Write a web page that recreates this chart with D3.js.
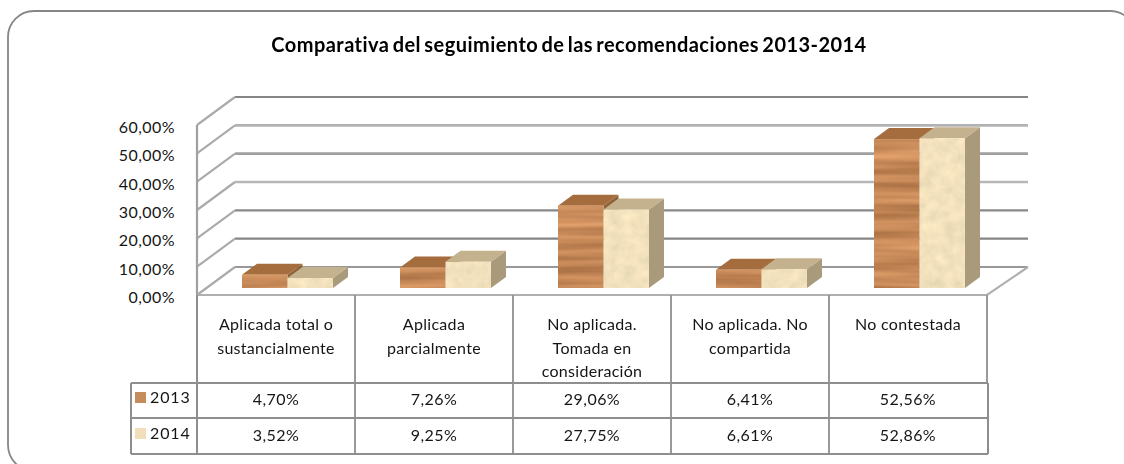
<!DOCTYPE html>
<html><head><meta charset="utf-8">
<script src="https://cdn.jsdelivr.net/npm/d3@7"></script>
<style>
html,body{margin:0;padding:0;background:#fff;overflow:hidden}
text{font-family:Lato,"Open Sans",sans-serif;fill:#151515}
</style></head><body>
<svg id="c" width="1124" height="464"></svg>
<script>
const title = "Comparativa del seguimiento de las recomendaciones 2013-2014";
const categories = [
  ["Aplicada total o","sustancialmente"],
  ["Aplicada","parcialmente"],
  ["No aplicada.","Tomada en","consideración"],
  ["No aplicada. No","compartida"],
  ["No contestada"]
];
const seriesNames = ["2013","2014"];
const values2013 = [4.70,7.26,29.06,6.41,52.56];
const values2014 = [3.52,9.25,27.75,6.61,52.86];
const yTicks = [0,10,20,30,40,50,60];

const svg = d3.select("#c");
const loc = d3.formatLocale({decimal:",",thousands:".",grouping:[3],currency:["","€"]});
const pct = v => loc.format(".2f")(v)+"%";

const defs = svg.append("defs");
function tex(id,freq,seed,oct,r,g,b,amp){
  const f = defs.append("filter").attr("id",id).attr("filterUnits","userSpaceOnUse")
    .attr("x",0).attr("y",0).attr("width",1124).attr("height",464).attr("color-interpolation-filters","sRGB");
  f.append("feTurbulence").attr("type","fractalNoise").attr("baseFrequency",freq).attr("numOctaves",oct).attr("seed",seed).attr("result","n");
  f.append("feColorMatrix").attr("in","n").attr("type","matrix")
    .attr("values",`${amp} 0 0 0 ${r-amp/2}  ${amp*0.85} 0 0 0 ${g-amp*0.85/2}  ${amp*0.7} 0 0 0 ${b-amp*0.7/2}  0 0 0 0 1`).attr("result","c");
  f.append("feComposite").attr("in","c").attr("in2","SourceAlpha").attr("operator","in").attr("result","t");
  f.append("feGaussianBlur").attr("in","t").attr("stdDeviation",0.6);
}
tex("wood","0.006 0.13",7,2,0.77,0.53,0.34,0.34);
tex("sand","0.09 0.09",4,3,0.95,0.885,0.74,0.13);
defs.append("filter").attr("id","soft").append("feGaussianBlur").attr("stdDeviation",0.55);

// frame
svg.append("rect").attr("x",8).attr("y",11).attr("width",1128).attr("height",460).attr("rx",26)
  .attr("fill","#fff").attr("stroke","#868686").attr("stroke-width",1.8);

// scales
const x = d3.scaleBand().domain(d3.range(categories.length)).range([197,987]);
const y = d3.scaleLinear().domain([0,60]).range([295,125]);
const depthX = 38, depthY = 28, backRight = 1028;

// walls
const walls = svg.append("g").attr("filter","url(#soft)");
const gridColor = t => ({60:"#858585",50:"#b2b2b2",40:"#a0a0a0",30:"#b6b6b6",20:"#888888",10:"#858585",0:"#989898"})[t];
const gridWidth = t => (t===50||t===30||t===40) ? 2.6 : 2.1;
yTicks.forEach(t=>{
  walls.append("polyline").attr("fill","none").attr("stroke",gridColor(t)).attr("stroke-width",gridWidth(t))
    .attr("points",[[197+depthX,y(t)-depthY],[backRight,y(t)-depthY]].join(" "));
  walls.append("line").attr("x1",197).attr("y1",y(t)).attr("x2",197+depthX).attr("y2",y(t)-depthY)
    .attr("stroke","#ababab").attr("stroke-width",2.2);
});
walls.append("line").attr("x1",197).attr("x2",197).attr("y1",y(60)).attr("y2",y(0)).attr("stroke","#a0a0a0").attr("stroke-width",2.2);
walls.append("polyline").attr("fill","none").attr("stroke","#b0b0b0").attr("stroke-width",2.2)
  .attr("points",[[197,y(0)],[987,y(0)],[backRight,y(0)-depthY]].join(" "));

// bars
const inner = d3.scaleBand().domain(seriesNames).range([45,136]);
const lift = 7, dx = 15, dy = 11;
const styles = {"2013":{tex:"wood",base:"#c68a58",top:"#a56d3e",side:"#8f6238"},
                "2014":{tex:"sand",base:"#f3e2bb",top:"#c4b18e",side:"#a99a7c"}};
const bars = svg.append("g").attr("filter","url(#soft)");
[values2013,values2014].forEach((vals,si)=>{
  const s = seriesNames[si], st = styles[s];
  vals.forEach((v,i)=>{
    const x0 = x(i)+inner(s), x1 = x0+inner.bandwidth();
    const yb = y(0)-lift, yt = y(v)-lift;
    bars.append("polygon").attr("points",[[x1,yb],[x1,yt],[x1+dx,yt-dy],[x1+dx,yb-dy]].join(" ")).attr("fill",st.side);
    bars.append("polygon").attr("points",[[x0,yt],[x1,yt],[x1+dx,yt-dy],[x0+dx,yt-dy]].join(" ")).attr("fill",st.top);
    bars.append("rect").attr("x",x0).attr("y",yt).attr("width",x1-x0).attr("height",yb-yt).attr("fill",st.base).attr("filter",`url(#${st.tex})`);
  });
});

// y axis labels
const ax = svg.append("g").attr("transform","translate(175,2.5)")
  .call(d3.axisLeft(y).tickValues(yTicks).tickFormat(pct).tickSize(0).tickPadding(0));
ax.select(".domain").remove();
ax.selectAll("text").attr("font-size",16).attr("letter-spacing",0.45).style("font-family","Lato").style("fill","#151515");

// title
svg.append("text").attr("x",569).attr("y",52).attr("text-anchor","middle")
  .attr("font-size",20).attr("font-weight",700).attr("letter-spacing",0.45).attr("word-spacing",-2).style("fill","#000").text(title);

// table
const tab = svg.append("g");
const rowY = [383,418,454], line = "#8e8e8e";
const L = (a,b,c,d,w=1.8,col=line)=>tab.append("line").attr("x1",a).attr("y1",b).attr("x2",c).attr("y2",d).attr("stroke",col).attr("stroke-width",w);
L(197,295,197,454,2);
x.domain().forEach(i=>L(x(i)+x.bandwidth(),295,x(i)+x.bandwidth(),i===4?383:454,1.8));
L(988,383,988,454,2);
L(131,383,131,454,2);
rowY.forEach(r=>L(131,r,988,r,1.9));

categories.forEach((lines,i)=>{
  lines.forEach((t,k)=>tab.append("text").attr("x",x(i)+x.bandwidth()/2).attr("y",330+k*23.5)
    .attr("text-anchor","middle").attr("font-size",16).attr("letter-spacing",0.3).text(t));
});
[values2013,values2014].forEach((vals,si)=>{
  const by = [405,441][si];
  vals.forEach((v,i)=>tab.append("text").attr("x",x(i)+x.bandwidth()/2).attr("y",by)
    .attr("text-anchor","middle").attr("font-size",16).attr("letter-spacing",0.45).text(pct(v)));
  const s = seriesNames[si];
  tab.append("rect").attr("x",135).attr("y",[392,428][si]).attr("width",11).attr("height",11).attr("fill",["#c58c5e","#f2deb8"][si]);
  tab.append("text").attr("x",150).attr("y",[403,439][si]).attr("font-size",16).attr("letter-spacing",0.9).text(s);
});
</script>
</body></html>
